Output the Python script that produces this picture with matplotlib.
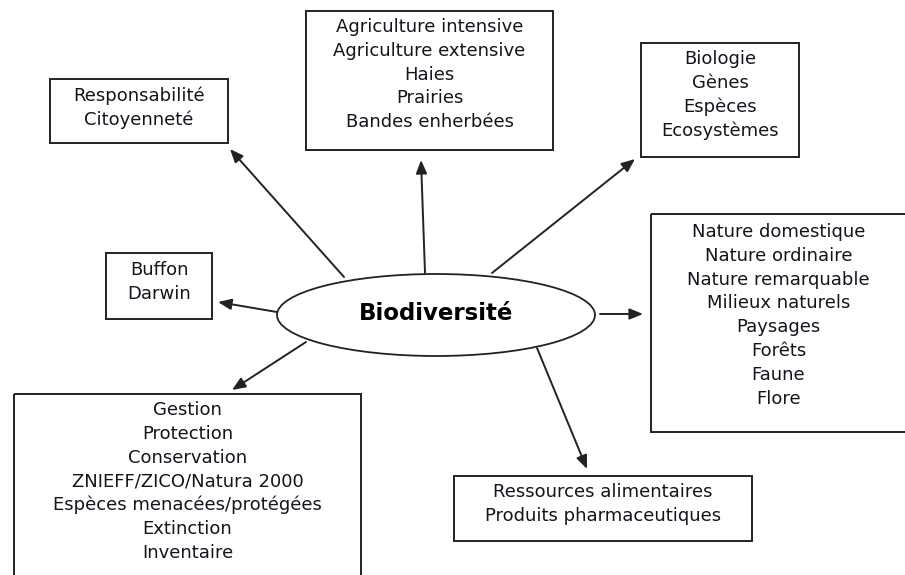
import matplotlib.pyplot as plt
from matplotlib.patches import Rectangle, Ellipse

# textes des cadres
centre = "Biodiversité"
responsabilite = ["Responsabilité", "Citoyenneté"]
agriculture = ["Agriculture intensive", "Agriculture extensive", "Haies",
               "Prairies", "Bandes enherbées"]
biologie = ["Biologie", "Gènes", "Espèces", "Ecosystèmes"]
nature = ["Nature domestique", "Nature ordinaire", "Nature remarquable",
          "Milieux naturels", "Paysages", "Forêts", "Faune", "Flore"]
histoire = ["Buffon", "Darwin"]
gestion = ["Gestion", "Protection", "Conservation", "ZNIEFF/ZICO/Natura 2000",
           "Espèces menacées/protégées", "Extinction", "Inventaire"]
ressources = ["Ressources alimentaires", "Produits pharmaceutiques"]

# cadres : (x0, y0, x1, y1, y de la premiere ligne), en pixels
boxes = [
    (responsabilite, (50, 79, 228, 143, 96)),
    (agriculture, (306, 11, 553, 150, 27)),
    (biologie, (641, 43, 799, 157, 59)),
    (nature, (651, 214, 906, 432, 232)),
    (histoire, (106, 253, 212, 319, 270)),
    (gestion, (14, 394, 361, 600, 410)),
    (ressources, (454, 476, 752, 541, 492)),
]

# fleches : depart -> pointe
arrows = [
    ((344, 277), (230, 149)),
    ((425, 273), (421, 160)),
    ((492, 273), (635, 159)),
    ((600, 314), (643, 314)),
    ((537, 348), (587, 469)),
    ((306, 342), (232, 390)),
    ((277, 312), (218, 302)),
]

line_step = 23.8
ink = "#222222"

fig = plt.figure(figsize=(9.05, 5.75), dpi=100)
ax = fig.add_axes([0, 0, 1, 1])
ax.set_xlim(0, 905)
ax.set_ylim(575, 0)
ax.axis("off")

for lines, (x0, y0, x1, y1, ty) in boxes:
    r = Rectangle((x0, y0), x1 - x0, y1 - y0, fill=False, ec=ink, lw=1.4)
    r.set_clip_on(True)
    ax.add_patch(r)
    cx = (x0 + x1) / 2
    for i, txt in enumerate(lines):
        ax.text(cx, ty + i * line_step, txt, ha="center", va="center",
                fontsize=13, color="#14141e", family="DejaVu Sans")

ax.add_patch(Ellipse((436, 315), 318, 82, fill=False, ec=ink, lw=1.3))
ax.text(436, 314, centre, ha="center", va="center", fontsize=16.5,
        fontweight="bold", color="black", family="DejaVu Sans")

for (x0, y0), (x1, y1) in arrows:
    ax.annotate("", xy=(x1, y1), xytext=(x0, y0),
                arrowprops=dict(arrowstyle="-|>,head_length=0.8,head_width=0.33",
                                color=ink, lw=1.4, shrinkA=0, shrinkB=0))

fig.savefig("out.png", dpi=100)
